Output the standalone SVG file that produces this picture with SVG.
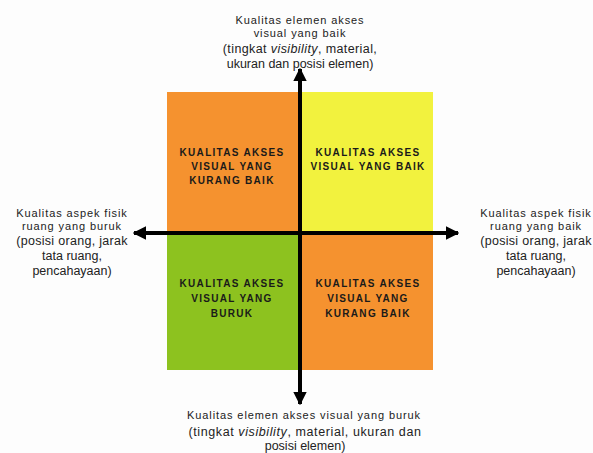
<svg xmlns="http://www.w3.org/2000/svg" width="593" height="453" viewBox="0 0 593 453">
<style>
.lbl{font-family:"Liberation Sans",Arial,sans-serif;fill:#222;text-anchor:middle}
.s{font-size:11px;letter-spacing:0.9px}
.m{font-size:12.5px}
.q{font-family:"Liberation Sans",Arial,sans-serif;font-size:10px;font-weight:bold;fill:#1a1a1a;text-anchor:middle;letter-spacing:1.3px}
.ax{stroke:#000;stroke-width:4;fill:none}
</style>
<defs>
<marker id="ah" viewBox="0 0 10 10" refX="9" refY="5" markerWidth="3.4" markerHeight="3.4" orient="auto" markerUnits="strokeWidth">
<path d="M0,0 L10,5 L0,10 Z" fill="#000"/>
</marker>
</defs>
<rect width="593" height="453" fill="#fdfdfd"/>
<g id="q-top-left">
<rect x="167" y="92" width="131" height="139" fill="#F5922F"/>
<text class="q" x="232" y="156">KUALITAS AKSES</text>
<text class="q" x="232" y="170">VISUAL YANG</text>
<text class="q" x="232" y="184">KURANG BAIK</text>
</g>
<g id="q-top-right">
<rect x="302" y="92" width="131" height="139" fill="#F2F23E"/>
<text class="q" x="368" y="156">KUALITAS AKSES</text>
<text class="q" x="368" y="170">VISUAL YANG BAIK</text>
</g>
<g id="q-bottom-left">
<rect x="167" y="235" width="131" height="135" fill="#8DC21F"/>
<text class="q" x="232" y="287">KUALITAS AKSES</text>
<text class="q" x="232" y="302">VISUAL YANG</text>
<text class="q" x="232" y="317">BURUK</text>
</g>
<g id="q-bottom-right">
<rect x="302" y="235" width="131" height="135" fill="#F5922F"/>
<text class="q" x="368" y="287">KUALITAS AKSES</text>
<text class="q" x="368" y="302">VISUAL YANG</text>
<text class="q" x="368" y="317">KURANG BAIK</text>
</g>
<g id="connectors">
<line class="ax" x1="300" y1="233" x2="300" y2="69" marker-end="url(#ah)"/>
<line class="ax" x1="300" y1="233" x2="300" y2="404" marker-end="url(#ah)"/>
<line class="ax" x1="300" y1="233" x2="134" y2="233" marker-end="url(#ah)"/>
<line class="ax" x1="300" y1="233" x2="458" y2="233" marker-end="url(#ah)"/>
</g>
<g id="label-top">
<text class="lbl s" x="300" y="24">Kualitas elemen akses</text>
<text class="lbl s" x="300" y="37">visual yang baik</text>
<text class="lbl m" x="300" y="53" letter-spacing="0.4">(tingkat <tspan font-style="italic">visibility</tspan>, material,</text>
<text class="lbl m" x="300" y="68">ukuran dan posisi elemen)</text>
</g>
<g id="label-left">
<text class="lbl s" x="72" y="217">Kualitas aspek fisik</text>
<text class="lbl s" x="72" y="230">ruang yang buruk</text>
<text class="lbl m" x="72" y="245" letter-spacing="0.3">(posisi orang, jarak</text>
<text class="lbl m" x="72" y="260">tata ruang,</text>
<text class="lbl m" x="72" y="275">pencahayaan)</text>
</g>
<g id="label-right">
<text class="lbl s" x="536" y="217">Kualitas aspek fisik</text>
<text class="lbl s" x="536" y="230">ruang yang baik</text>
<text class="lbl m" x="536" y="245" letter-spacing="0.3">(posisi orang, jarak</text>
<text class="lbl m" x="536" y="260">tata ruang,</text>
<text class="lbl m" x="536" y="275">pencahayaan)</text>
</g>
<g id="label-bottom">
<text class="lbl s" x="304" y="419">Kualitas elemen akses visual yang buruk</text>
<text class="lbl m" x="305" y="436" letter-spacing="0.6">(tingkat <tspan font-style="italic">visibility</tspan>, material, ukuran dan</text>
<text class="lbl m" x="305" y="450">posisi elemen)</text>
</g>
</svg>
